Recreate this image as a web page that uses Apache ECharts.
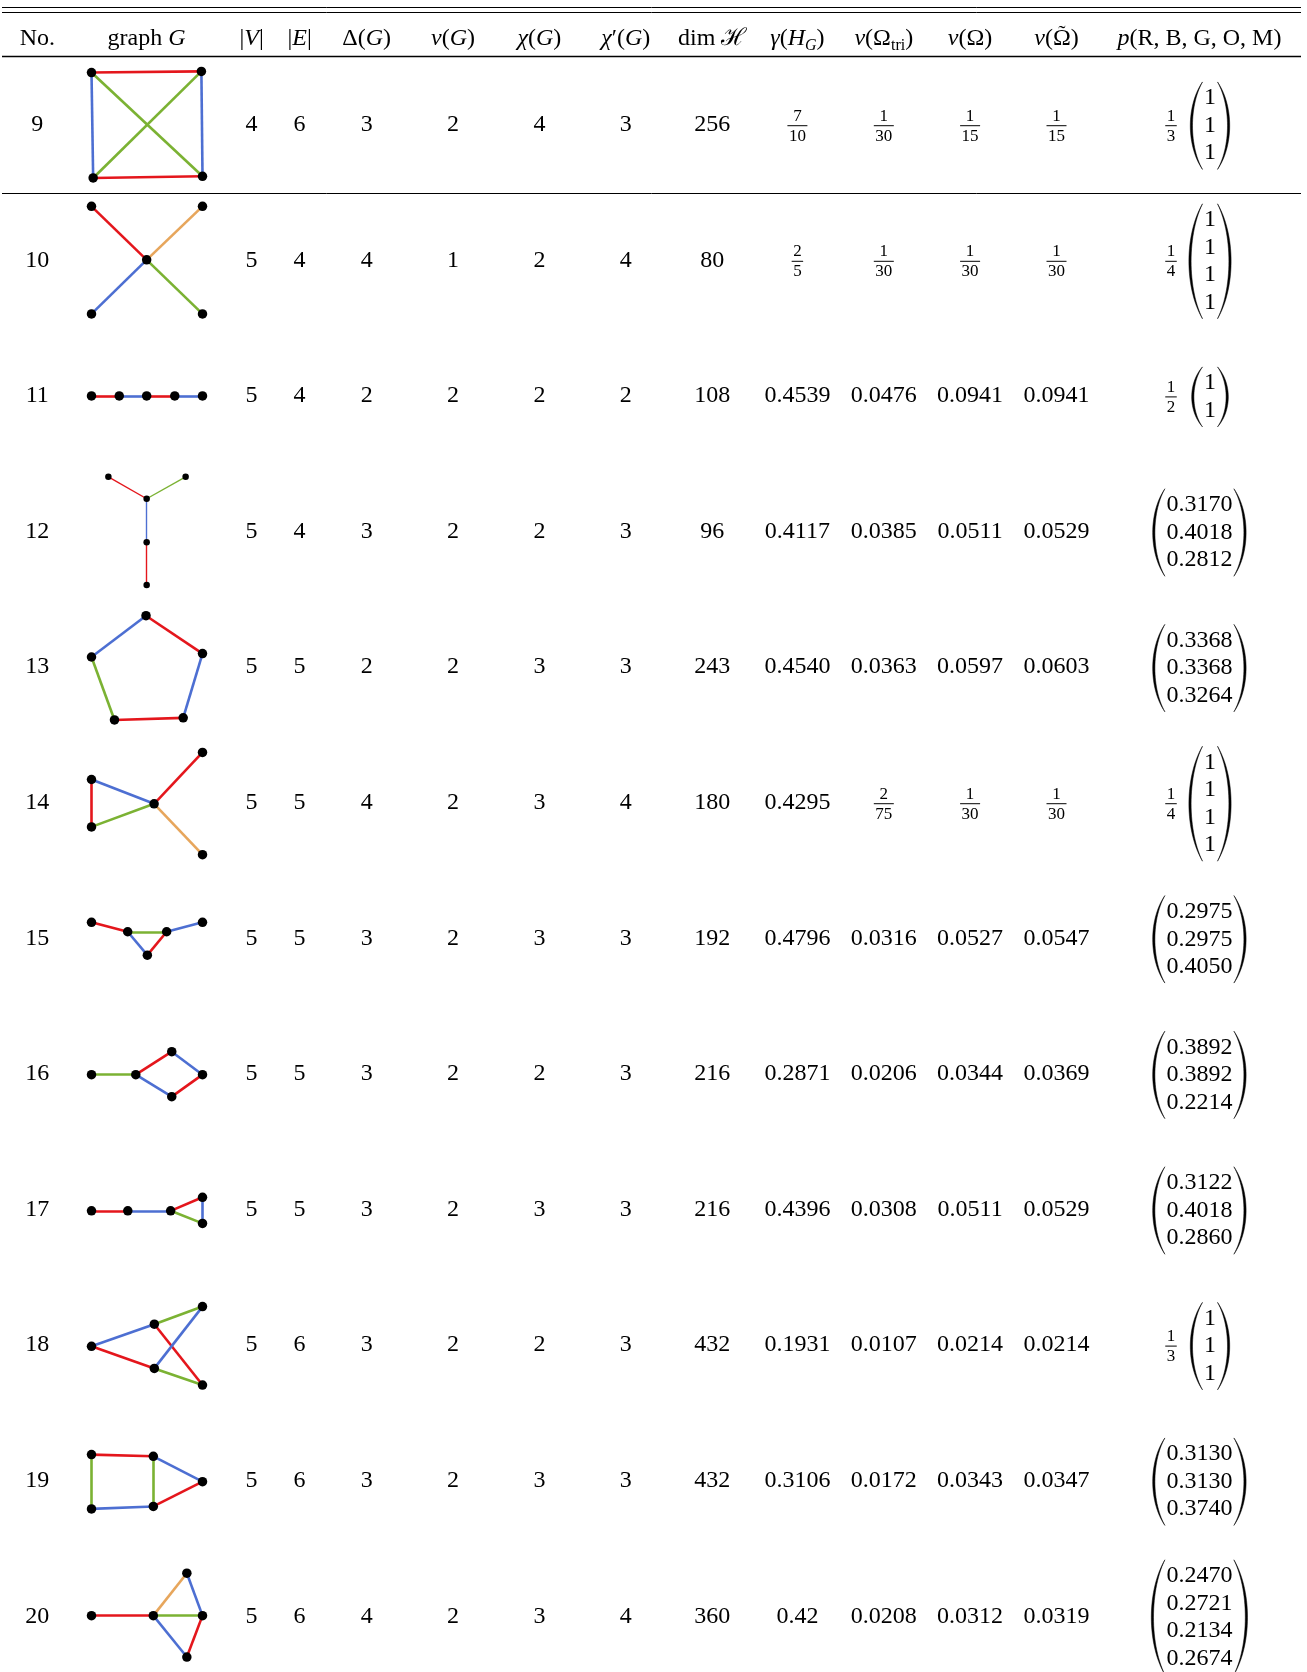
<!DOCTYPE html>
<html><head><meta charset="utf-8">
<script src="https://cdn.jsdelivr.net/npm/echarts@6/dist/echarts.min.js"></script>
<style>html,body{margin:0;padding:0;background:#fff}#chart{width:1307px;height:1672px}</style>
</head><body><div id="chart"></div>
<script>
// ---------------- data ----------------
const rowNos   = [9, 10, 11, 12, 13, 14, 15, 16, 17, 18, 19, 20];
const nV       = [4, 5, 5, 5, 5, 5, 5, 5, 5, 5, 5, 5];
const nE       = [6, 4, 4, 4, 5, 5, 5, 5, 5, 6, 6, 6];
const maxDeg   = [3, 4, 2, 3, 2, 4, 3, 3, 3, 3, 3, 4];
const vG       = [2, 1, 2, 2, 2, 2, 2, 2, 2, 2, 2, 2];
const chiG     = [4, 2, 2, 2, 3, 3, 3, 2, 3, 2, 3, 3];
const chiEdge  = [3, 4, 2, 3, 3, 4, 3, 3, 3, 3, 3, 4];
const dimH     = [256, 80, 108, 96, 243, 180, 192, 216, 216, 432, 432, 360];
const gammaHG  = ['7/10', '2/5', '0.4539', '0.4117', '0.4540', '0.4295', '0.4796', '0.2871', '0.4396', '0.1931', '0.3106', '0.42'];
const nuTri    = ['1/30', '1/30', '0.0476', '0.0385', '0.0363', '2/75', '0.0316', '0.0206', '0.0308', '0.0107', '0.0172', '0.0208'];
const nuOmega  = ['1/15', '1/30', '0.0941', '0.0511', '0.0597', '1/30', '0.0527', '0.0344', '0.0511', '0.0214', '0.0343', '0.0312'];
const nuOmegaT = ['1/15', '1/30', '0.0941', '0.0529', '0.0603', '1/30', '0.0547', '0.0369', '0.0529', '0.0214', '0.0347', '0.0319'];
const pScale   = ['1/3', '1/4', '1/2', null, null, '1/4', null, null, null, '1/3', null, null];
const pVector  = [
  ['1', '1', '1'], ['1', '1', '1', '1'], ['1', '1'],
  ['0.3170', '0.4018', '0.2812'], ['0.3368', '0.3368', '0.3264'],
  ['1', '1', '1', '1'],
  ['0.2975', '0.2975', '0.4050'], ['0.3892', '0.3892', '0.2214'],
  ['0.3122', '0.4018', '0.2860'], ['1', '1', '1'],
  ['0.3130', '0.3130', '0.3740'], ['0.2470', '0.2721', '0.2134', '0.2674']
];
// graph drawings: vertex layout (x 0..100 across the cell, y relative to row centre, same unit)
const graphNodes = [
  [[0, -47], [99, -48], [1.5, 48], [100, 46.5]],
  [[0, -48.6], [100, -48.6], [49.7, -0.4], [0, 48.3], [100, 48.3]],
  [[0, 0], [25, 0], [49.7, 0], [75, 0], [100, 0]],
  [[15.2, -49.3], [84.8, -49.3], [49.7, -29.5], [49.7, 9.6], [49.7, 48.3]],
  [[49.1, -46.3], [100, -12.2], [82.6, 45.7], [20.7, 47.6], [0, -9.1]],
  [[100, -45.3], [0, -20.9], [0, 21.8], [56.4, 1], [100, 46.8]],
  [[0, -14.4], [32.6, -5.9], [67.7, -5.9], [50.3, 15.2], [100, -14.4]],
  [[0, 0.7], [39.9, 0.7], [72.3, -20], [100, 0.7], [72.3, 20.5]],
  [[0, 1.2], [32.7, 1.2], [71.3, 1.2], [100, -11], [100, 12.5]],
  [[0, 1.1], [56.6, -18.8], [56.6, 21], [100, -34.7], [100, 36]],
  [[0, -23.5], [55.7, -22], [100, 0.9], [55.7, 23.2], [0, 25.4]],
  [[0, -0.6], [55.7, -0.6], [85.9, -38.8], [100, -0.6], [85.9, 36.7]]
];
// edges: [from, to, colour class]
const graphEdges = [
  [[0, 1, 'R'], [2, 3, 'R'], [0, 2, 'B'], [1, 3, 'B'], [0, 3, 'G'], [1, 2, 'G']],
  [[0, 2, 'R'], [1, 2, 'O'], [3, 2, 'B'], [4, 2, 'G']],
  [[0, 1, 'R'], [1, 2, 'B'], [2, 3, 'R'], [3, 4, 'B']],
  [[0, 2, 'R'], [1, 2, 'G'], [2, 3, 'B'], [3, 4, 'R']],
  [[0, 1, 'R'], [1, 2, 'B'], [2, 3, 'R'], [3, 4, 'G'], [4, 0, 'B']],
  [[1, 2, 'R'], [1, 3, 'B'], [2, 3, 'G'], [3, 0, 'R'], [3, 4, 'O']],
  [[0, 1, 'R'], [1, 2, 'G'], [1, 3, 'B'], [3, 2, 'R'], [2, 4, 'B']],
  [[0, 1, 'G'], [1, 2, 'R'], [2, 3, 'B'], [1, 4, 'B'], [4, 3, 'R']],
  [[0, 1, 'R'], [1, 2, 'B'], [2, 3, 'R'], [2, 4, 'G'], [3, 4, 'B']],
  [[0, 1, 'B'], [0, 2, 'R'], [1, 3, 'G'], [1, 4, 'R'], [2, 3, 'B'], [2, 4, 'G']],
  [[0, 1, 'R'], [0, 4, 'G'], [1, 3, 'G'], [1, 2, 'B'], [3, 2, 'R'], [4, 3, 'B']],
  [[0, 1, 'R'], [1, 2, 'O'], [2, 3, 'B'], [1, 3, 'G'], [1, 4, 'B'], [4, 3, 'R']]
];
const headerLabels = [
  'No.', 'graph {i|G}', '|{i|V}|', '|{i|E}|', 'Δ({i|G})', '{i|v}({i|G})', '{i|χ}({i|G})',
  '{i|χ}′({i|G})', 'dim {h|ℋ}', '{i|γ}({i|H}{si|G})', '{i|ν}(Ω{s|tri})', '{i|ν}(Ω)', '{i|ν}(Ω)',
  '{i|p}(R, B, G, O, M)'
];
const TILDE_COL = 12; // header whose Ω carries a tilde

// ---------------- layout / style ----------------
const FONT = '"Liberation Serif","Times New Roman","DejaVu Serif",serif';
const EDGE_COLORS = { R: '#e4161c', B: '#4d6fd2', G: '#7bb233', O: '#e7a65c' };
const W = 1307, H = 1672;
const ROW_Y0 = 124.7, ROW_STEP = 135.6, HEAD_Y = 38.4;
const COLS = [37.3, 146.5, 251.6, 299.6, 366.7, 453.1, 539.4, 625.8, 712.2, 797.4, 883.8, 970.1, 1056.5, 1199.4];
const GX0 = 91.5, GU = 1.11;
const THIN = { 3: true };
const rowY = i => ROW_Y0 + i * ROW_STEP;

const mctx = document.createElement('canvas').getContext('2d');
function measure(s, italic) { mctx.font = (italic ? 'italic ' : '') + '24px ' + FONT; return mctx.measureText(s).width; }

// build graph marks from the layout arrays
const nodeData = [], edgeData = [];
graphNodes.forEach((nodes, g) => {
  const pos = nodes.map(([u, v]) => [GX0 + u * GU, rowY(g) + v * GU]);
  pos.forEach(p => nodeData.push({ value: p, symbolSize: THIN[g] ? 6.5 : 9.5 }));
  graphEdges[g].forEach(([a, b, c]) => edgeData.push({
    coords: [pos[a], pos[b]],
    lineStyle: { color: EDGE_COLORS[c], width: THIN[g] ? 1.4 : 2.6, opacity: 1 }
  }));
});

function textEl(p, s, size, rich) {
  return {
    type: 'text', x: p[0], y: p[1],
    style: { text: s, fontSize: size, fontFamily: FONT, fill: '#000',
      align: 'center', verticalAlign: 'middle', rich: rich }
  };
}
function digitW(s, size) { let w = 0; for (const ch of s) w += (ch === '.' ? 0.25 : 0.5) * size; return w; }
function fracEls(api, x, y, str) {
  const [n, d] = str.split('/');
  const yb = y + 1;
  const w = Math.max(n.length, d.length) * 8.5 + 3;
  const p0 = api.coord([x - w / 2, yb]), p1 = api.coord([x + w / 2, yb]);
  return [
    textEl(api.coord([x, yb - 9.5]), n, 17),
    textEl(api.coord([x, yb + 10.5]), d, 17),
    { type: 'rect', shape: { x: p0[0], y: p0[1] - 0.5, width: p1[0] - p0[0], height: 1 }, style: { fill: '#000' } }
  ];
}
function cellEls(api, x, y, v) {
  const s = String(v);
  if (s.indexOf('/') >= 0) return fracEls(api, x, y, s);
  return [textEl(api.coord([x, y]), s, 24)];
}
function parenEl(api, endX, yt, yb, w, side) {
  const pts = [];
  const hgt = yb - yt, N = 30;
  const bez = (belly, t) => {
    const c = belly - (endX - belly) / 3;
    const p0 = [endX, yt], p1 = [c, yt + 0.27 * hgt], p2 = [c, yb - 0.27 * hgt], p3 = [endX, yb];
    const m = 1 - t;
    return [m*m*m*p0[0] + 3*m*m*t*p1[0] + 3*m*t*t*p2[0] + t*t*t*p3[0],
            m*m*m*p0[1] + 3*m*m*t*p1[1] + 3*m*t*t*p2[1] + t*t*t*p3[1]];
  };
  const outer = endX + side * w, inner = endX + side * (w - 2.2);
  for (let k = 0; k <= N; k++) pts.push(api.coord(bez(outer, k / N)));
  for (let k = N; k >= 0; k--) pts.push(api.coord(bez(inner, k / N)));
  return { type: 'polygon', shape: { points: pts }, style: { fill: '#000', stroke: '#000', lineWidth: 0.5 } };
}
function vectorEls(api, cx, y, entries) {
  const n = entries.length, step = 27.5, yc = y + 1;
  const kids = entries.map((e, k) => textEl(api.coord([cx, yc + (k - (n - 1) / 2) * step]), e, 24));
  const hw = Math.max(...entries.map(e => digitW(e, 24))) / 2;
  const hh = (n * step + 5) / 2;
  const pw = 8 + n * 1.4;
  kids.push(parenEl(api, cx - hw - 1.5, yc - hh, yc + hh, pw, -1));
  kids.push(parenEl(api, cx + hw + 1.5, yc - hh, yc + hh, pw, 1));
  return kids;
}

function renderRow(params, api) {
  const i = api.value(0);
  const y = rowY(i);
  let kids = [];
  const vals = [rowNos[i], null, nV[i], nE[i], maxDeg[i], vG[i], chiG[i], chiEdge[i], dimH[i],
                gammaHG[i], nuTri[i], nuOmega[i], nuOmegaT[i]];
  vals.forEach((v, c) => { if (v !== null) kids = kids.concat(cellEls(api, COLS[c], y, v)); });
  if (pScale[i]) {
    kids = kids.concat(fracEls(api, 1171, y, pScale[i]));
    kids = kids.concat(vectorEls(api, 1210, y, pVector[i]));
  } else {
    kids = kids.concat(vectorEls(api, COLS[13], y, pVector[i]));
  }
  return { type: 'group', children: kids };
}
const headRich = {
  i: { fontStyle: 'italic', fontSize: 24, fontFamily: FONT, lineHeight: 30, verticalAlign: 'middle' },
  h: { fontSize: 24, fontFamily: FONT, lineHeight: 30, verticalAlign: 'middle' },
  s: { fontSize: 16, fontFamily: FONT, lineHeight: 17, verticalAlign: 'bottom' },
  si: { fontStyle: 'italic', fontSize: 16, fontFamily: FONT, lineHeight: 17, verticalAlign: 'bottom' }
};
function renderHead(params, api) {
  const k = api.value(0);
  const p = api.coord([COLS[k], HEAD_Y]);
  const el = textEl(p, headerLabels[k], 24, headRich);
  el.style.lineHeight = 30;
  if (k !== TILDE_COL) return el;
  // tilde accent over the Ω
  const wNu = measure('ν', true), wPar = measure('('), wOm = measure('Ω'), total = wNu + 2 * wPar + wOm;
  const ox = p[0] - total / 2 + wNu + wPar + wOm / 2;
  const t = textEl([ox, p[1] - 4.5], '˜', 22);
  return { type: 'group', children: [el, t] };
}

const chart = echarts.init(document.getElementById('chart'), null, { renderer: 'canvas' });
const rule = (y, lw) => ({ type: 'line', shape: { x1: 2, y1: y, x2: 1301, y2: y }, style: { stroke: '#000', lineWidth: lw } });
chart.setOption({
  animation: false,
  backgroundColor: '#fff',
  grid: { left: 0, right: 0, top: 0, bottom: 0 },
  xAxis: { type: 'value', min: 0, max: W, show: false },
  yAxis: { type: 'value', min: 0, max: H, inverse: true, show: false },
  graphic: [rule(7.5, 1), rule(12.5, 1), rule(56.5, 1.4), rule(193.5, 1)],
  series: [
    { type: 'lines', coordinateSystem: 'cartesian2d', data: edgeData, z: 2, silent: true },
    { type: 'scatter', data: nodeData, itemStyle: { color: '#000', opacity: 1 }, z: 3, silent: true },
    { type: 'custom', data: rowNos.map((n, i) => [i, 0]), renderItem: renderRow, z: 4, silent: true },
    { type: 'custom', data: headerLabels.map((h, k) => [k, 0]), renderItem: renderHead, z: 4, silent: true }
  ]
});
</script></body></html>
